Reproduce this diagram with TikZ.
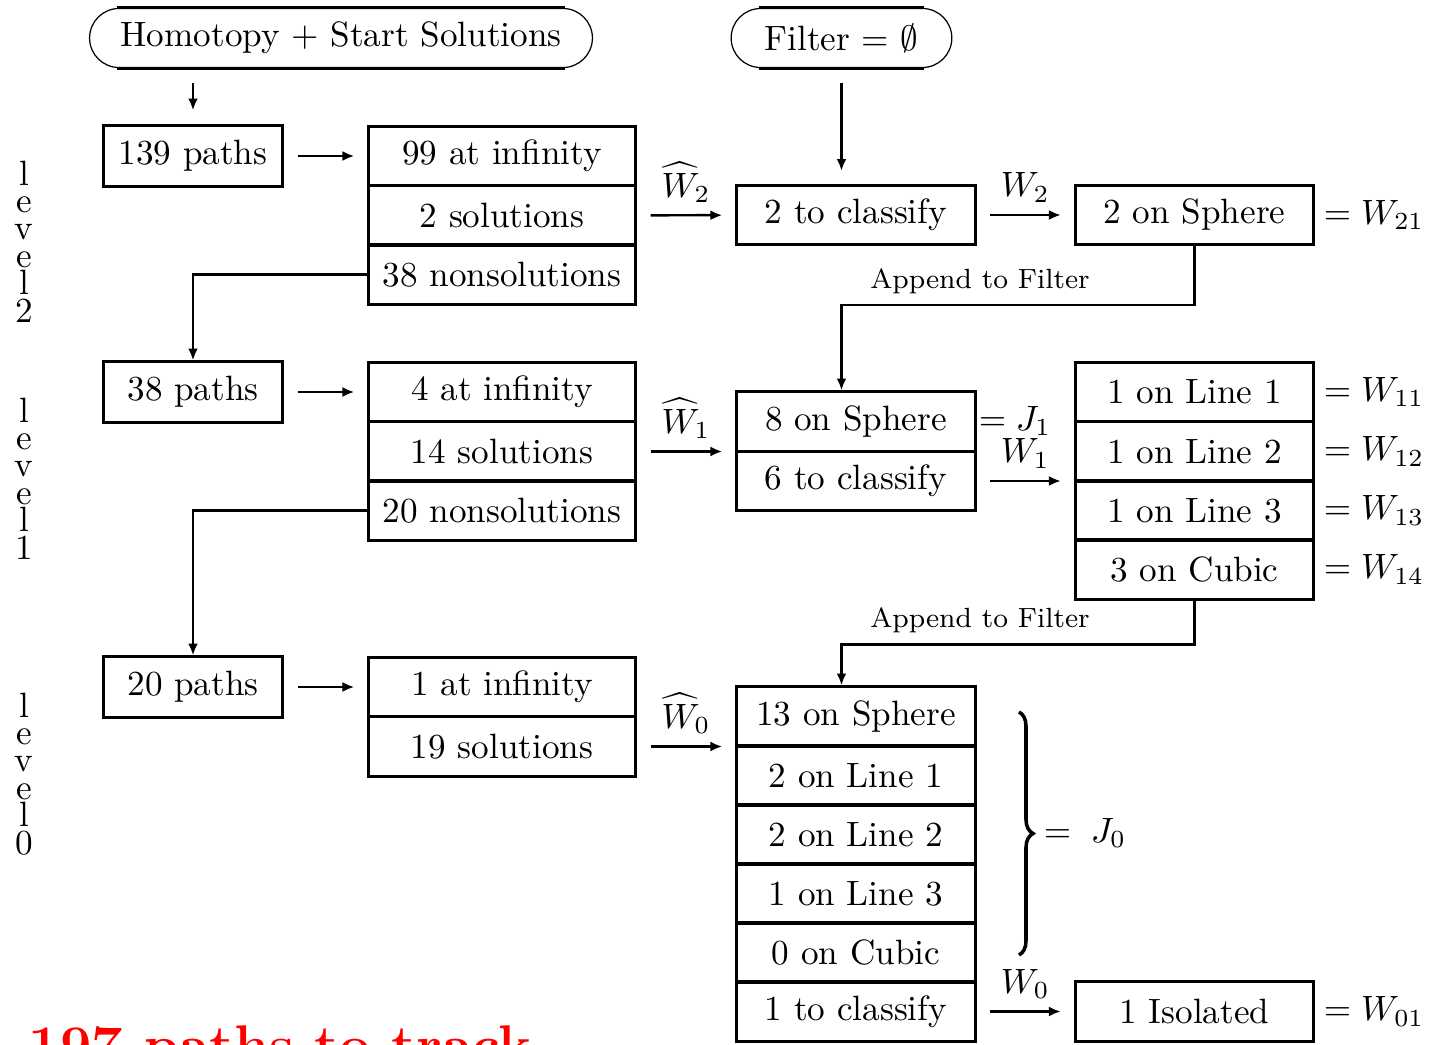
\documentclass[tikz,border=0pt]{standalone}
\usepackage{amssymb}
\usetikzlibrary{arrows.meta,shapes.misc,decorations.pathreplacing}

\tikzset{
  startbox/.style={rounded rectangle,draw,line width=0.35pt,minimum height=0.59cm},
  pathbox/.style={rectangle,draw,line width=0.85pt,minimum width=1.78cm,minimum height=0.6cm},
  stackbox/.style={rectangle,draw,line width=0.85pt,minimum width=2.66cm,minimum height=0.59cm},
  sortbox/.style={rectangle,draw,line width=0.85pt,minimum width=2.38cm,minimum height=0.59cm},
  flow/.style={->,line width=0.7pt},
  levellabel/.style={inner sep=0pt,anchor=north,align=center,font=\fontsize{10}{7.8}\selectfont},
  filterlabel/.style={font=\fontsize{7.9}{10}\selectfont},
}

\begin{document}
\begin{tikzpicture}[x=0.01cm,y=-0.01cm,>={Latex[length=3.4pt,width=2.8pt]}]
  \useasboundingbox (0,0) rectangle (1438,1045);

  \node at (341,38) (home) [startbox,minimum width=5.26cm] {Homotopy + Start Solutions};
  \node at (841.5,38) (filt) [startbox,minimum width=2.44cm] {Filter = $\emptyset$};
  \draw[line width=0.85pt] ([xshift=0.28cm]home.west |- home.north) -- ([xshift=-0.28cm]home.east |- home.north)
        ([xshift=0.28cm]home.west |- home.south) -- ([xshift=-0.28cm]home.east |- home.south);
  \draw[line width=0.85pt] ([xshift=0.28cm]filt.west |- filt.north) -- ([xshift=-0.28cm]filt.east |- filt.north)
        ([xshift=0.28cm]filt.west |- filt.south) -- ([xshift=-0.28cm]filt.east |- filt.south);

  % level 2
  \node at (193,156) (p139) [pathbox] {139 paths};
  \node at (502,156) (inf2) [stackbox] {99 at infinity};
  \node at (502,215.5) (sol2) [stackbox] {2 solutions};
  \node at (502,274.5) (non2) [stackbox] {38 nonsolutions};
  \node at (856,215) (cls2) [sortbox] {2 to classify};
  \node at (1194.5,215) (sph2) [sortbox] {2 on Sphere};
  \node at (1374,215) (w21) {$= W_{21}$};

  % level 1
  \node at (193,392) (p38) [pathbox] {38 paths};
  \node at (502,392) (inf1) [stackbox] {4 at infinity};
  \node at (502,451.5) (sol1) [stackbox] {14 solutions};
  \node at (502,510.5) (non1) [stackbox] {20 nonsolutions};
  \node at (856,421.5) (sph1) [sortbox] {8 on Sphere};
  \node at (856,481) (cls1) [sortbox] {6 to classify};
  \node at (1015,421) (j1) {$=J_1$};
  \node at (1194.5,392) (line1) [sortbox] {1 on Line 1};
  \node at (1194.5,451.5) (line2) [sortbox] {1 on Line 2};
  \node at (1194.5,510.5) (line3) [sortbox] {1 on Line 3};
  \node at (1194.5,569.5) (cub1) [sortbox] {3 on Cubic};
  \node at (1374,392) (w11) {$= W_{11}$};
  \node at (1374,451.5) (w12) {$= W_{12}$};
  \node at (1374,510.5) (w13) {$= W_{13}$};
  \node at (1374,569.5) (w14) {$= W_{14}$};

  % level 0
  \node at (193,687) (p20) [pathbox] {20 paths};
  \node at (502,687) (inf0) [stackbox] {1 at infinity};
  \node at (502,746.5) (sol0) [stackbox] {19 solutions};
  \node at (856,716.5) (sph0) [sortbox] {13 on Sphere};
  \node at (856,775.5) (lin01) [sortbox] {2 on Line 1};
  \node at (856,834.5) (lin02) [sortbox] {2 on Line 2};
  \node at (856,893.5) (lin03) [sortbox] {1 on Line 3};
  \node at (856,952.5) (cub0) [sortbox] {0 on Cubic};
  \node at (856,1011.5) (cls0) [sortbox] {1 to classify};
  \node at (1194.5,1011.5) (iso) [sortbox] {1 Isolated};
  \node at (1374,1011.5) (w01) {$= W_{01}$};
  \draw[line width=1pt,decorate,decoration={brace,amplitude=0.14cm}] (1019,712) -- (1019,955);
  \node at (1085,833) (j0) {$=\;J_0$};

  \node at (24,160) (lev2) [levellabel] {l\\e\\v\\e\\l\\2};
  \node at (24,397) (lev1) [levellabel] {l\\e\\v\\e\\l\\1};
  \node at (24,692) (lev0) [levellabel] {l\\e\\v\\e\\l\\0};

  \node at (28,1064) (track) [anchor=base west,inner sep=0pt,text=red,font=\fontsize{15.9}{19}\bfseries\selectfont] {197 paths to track};

  \path[flow]
        (home.south -| p139.north) edge[shorten <=0.15cm,shorten >=0.14cm] (p139.north)
        (filt.south) edge[shorten <=0.15cm,shorten >=0.13cm] (filt.south |- cls2.north)
        (p139) edge[shorten <=0.14cm,shorten >=0.13cm] (inf2)
        (p38) edge[shorten <=0.14cm,shorten >=0.13cm] (inf1)
        (p20) edge[shorten <=0.14cm,shorten >=0.13cm] (inf0)
        (sol2) edge[shorten <=0.14cm,shorten >=0.13cm] node[above] {$\widehat{W}_2$} (cls2)
        (sol1.east) edge[shorten <=0.14cm,shorten >=0.13cm] node[above] {$\widehat{W}_1$} (sol1.east -| sph1.west)
        (sol0.east) edge[shorten <=0.14cm,shorten >=0.13cm] node[above] {$\widehat{W}_0$} (sol0.east -| sph0.west)
        (cls2) edge[shorten <=0.13cm,shorten >=0.13cm] node[above] {$W_2$} (sph2)
        (cls1.east) edge[shorten <=0.13cm,shorten >=0.13cm] node[above] {$W_1$} (cls1.east -| line2.west)
        (cls0) edge[shorten <=0.13cm,shorten >=0.13cm] node[above] {$W_0$} (iso)
        ;
  \draw[flow] (non2) -| (p38);
  \draw[flow] (non1) -| (p20);
  \draw[flow] (sph2.south) -- ++(0,59) -| (filt.south |- sph1.north);
  \draw[flow] (cub1.south) -- ++(0,44) -| (filt.south |- sph0.north);
  \node at (980,281) (app1) [filterlabel] {Append to Filter};
  \node at (980,620) (app0) [filterlabel] {Append to Filter};
\end{tikzpicture}
\end{document}
